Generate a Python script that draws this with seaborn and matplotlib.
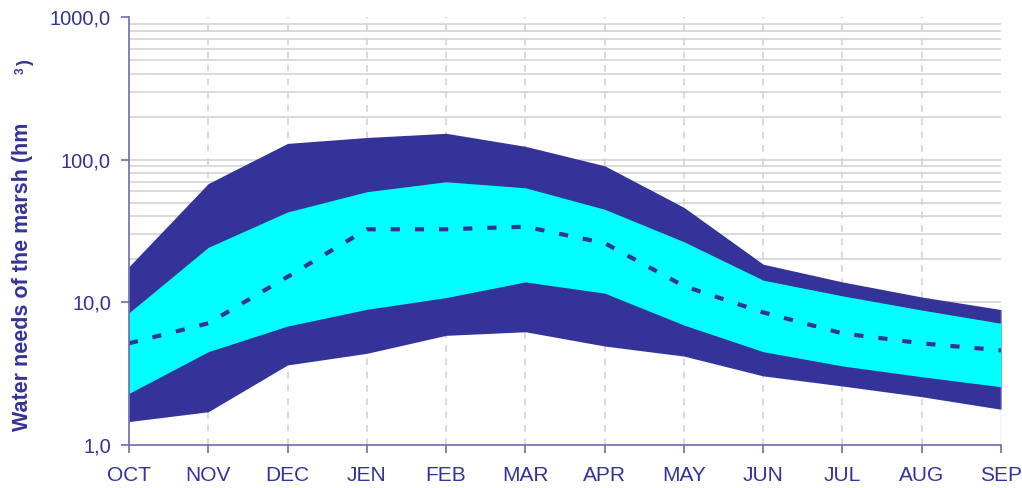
import numpy as np
import pandas as pd
import matplotlib
matplotlib.use("Agg")
import matplotlib.pyplot as plt
from matplotlib.ticker import FixedLocator, NullFormatter, FuncFormatter
import seaborn as sns

months = ["OCT", "NOV", "DEC", "JEN", "FEB", "MAR", "APR", "MAY", "JUN", "JUL", "AUG", "SEP"]
maximum = [17.8, 68, 130, 143, 153, 124, 90.6, 46.3, 18.5, 13.9, 10.9, 8.9]
upper_q = [8.45, 24.3, 43, 59.6, 70, 63.5, 44.9, 26.6, 14.3, 11.1, 8.83, 7.13]
median = [5.16, 7.13, 15.1, 32.5, 32.5, 33.9, 26.0, 13.0, 8.5, 6.06, 5.16, 4.6]
lower_q = [2.30, 4.51, 6.82, 8.93, 10.8, 13.9, 11.6, 6.93, 4.51, 3.58, 3.01, 2.56]
minimum = [1.46, 1.71, 3.64, 4.39, 5.87, 6.22, 4.94, 4.2, 3.05, 2.59, 2.18, 1.78]

navy = "#333399"
cyan = "#00FFFF"
axis_col = "#6b6bb0"

df = pd.DataFrame({
    "pos": np.arange(len(months)),
    "month": months,
    "max": maximum,
    "q_hi": upper_q,
    "median": median,
    "q_lo": lower_q,
    "min": minimum,
})

sns.set_style("white")
plt.rcParams["font.family"] = ["Liberation Sans", "DejaVu Sans"]

fig = plt.figure(figsize=(10.22, 4.88), dpi=100)
ax = fig.add_axes([0.1262, 0.0881, 0.8533, 0.8771])

# envelope bands
ax.fill_between(df["pos"], df["min"], df["max"], color=navy, linewidth=0, zorder=2)
ax.fill_between(df["pos"], df["q_lo"], df["q_hi"], color=cyan, linewidth=0, zorder=3)

# thin edge closing the area at the last month
last = df.iloc[-1]
ax.vlines(last["pos"], 1, last["max"], color="#b4c6e4", linewidth=1, zorder=3.5)

# median line
sns.lineplot(data=df, x="pos", y="median", ax=ax, color=navy, linewidth=3,
             zorder=4, legend=False)
ln = ax.lines[-1]
ln.set_dashes((2.2, 3.6))
ln.set_dash_capstyle("butt")

ax.set_yscale("log")
ax.set_ylim(1, 1000)
ax.set_xlim(0, len(months) - 1)

# grid: horizontal at every log step, vertical dashed at each month
for k in (10, 100):
    for m in range(1, 10):
        ax.axhline(k * m, color="#d3d3d3", linewidth=1.2, zorder=1)
for p in df["pos"][1:-1]:
    ax.axvline(p, color="#d3d3d3", linewidth=1.2, linestyle=(0, (4, 4)), zorder=1)

ax.yaxis.set_major_locator(FixedLocator([1, 10, 100, 1000]))
ax.yaxis.set_minor_locator(FixedLocator([]))
ax.yaxis.set_minor_formatter(NullFormatter())
ax.yaxis.set_major_formatter(FuncFormatter(lambda v, _: f"{v:.1f}".replace(".", ",")))
ax.set_xticks(df["pos"])
ax.set_xticklabels(months)

for side in ("top", "right"):
    ax.spines[side].set_visible(False)
for side in ("left", "bottom"):
    ax.spines[side].set_color(axis_col)
    ax.spines[side].set_linewidth(1.2)
    ax.spines[side].set_zorder(5)

ax.tick_params(axis="both", which="major", direction="out", length=6, width=1.2,
               color=axis_col, labelcolor=navy)
ax.tick_params(axis="y", pad=7, left=True, labelsize=14.5)
ax.tick_params(axis="x", pad=9, bottom=True, labelsize=15)

# axis title; the unit exponent and closing bracket are set after a gap
ax.set_xlabel("")
ax.set_ylabel("Water needs of the marsh (hm", color=navy,
              fontsize=15.5, fontweight="bold")
ax.yaxis.set_label_coords(-0.110, 0.394)
fig.text(20.5 / 1022, (488 - 74) / 488, "3", rotation=90, ha="center", va="bottom",
         color=navy, fontsize=8.5, fontweight="bold")
fig.text(25.5 / 1022, (488 - 66) / 488, ")", rotation=90, ha="center", va="bottom",
         color=navy, fontsize=13, fontweight="bold")

fig.savefig("out.png", dpi=100)
